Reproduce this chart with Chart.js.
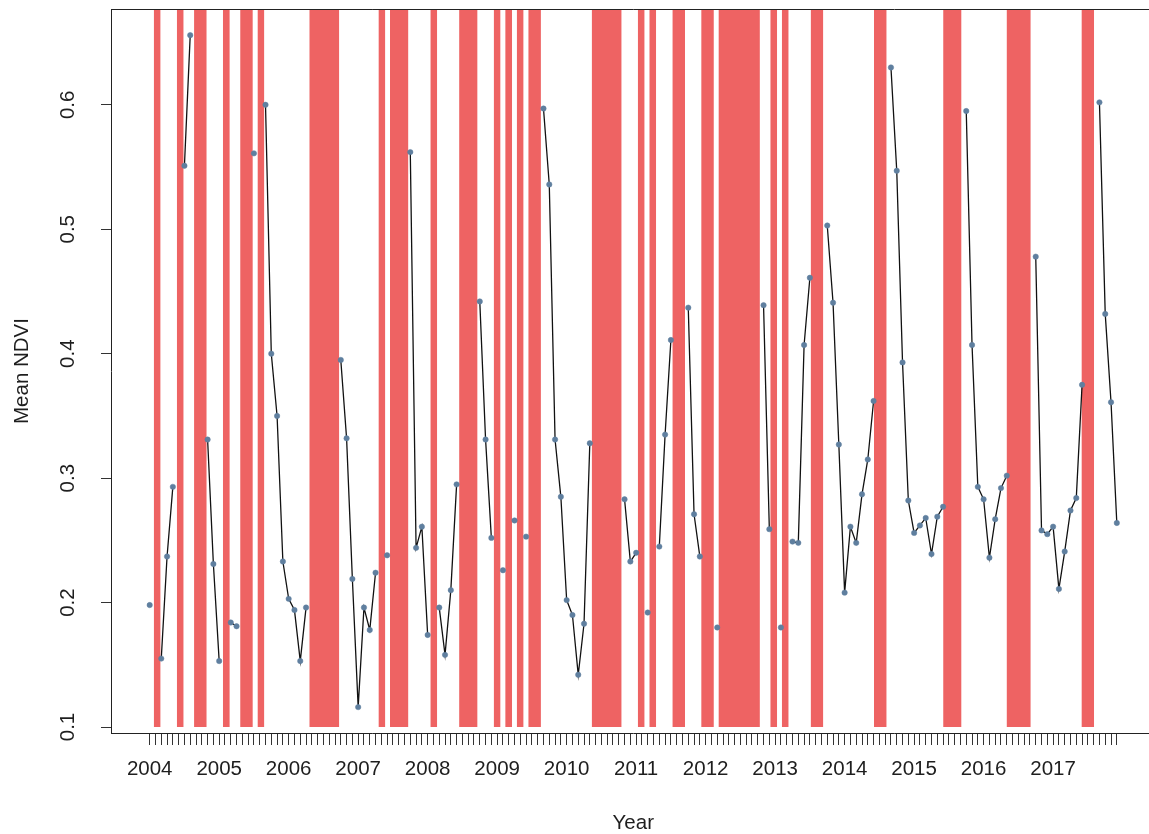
<!DOCTYPE html>
<html>
<head>
<meta charset="utf-8">
<script src="https://cdn.jsdelivr.net/npm/chart.js@4.4.1/dist/chart.umd.min.js"></script>
<style>
  html, body { margin: 0; padding: 0; background: #ffffff; overflow: hidden; width: 1149px; height: 834px; }
  canvas { display: block; position: absolute; left: 0; top: 0; }
</style>
</head>
<body>
<canvas id="c" width="1160" height="834"></canvas>
<script>
// ---- data (monthly mean NDVI, Jan 2004 .. Dec 2017; null = missing month) ----
const years = [2004, 2005, 2006, 2007, 2008, 2009, 2010, 2011, 2012, 2013, 2014, 2015, 2016, 2017];
const ndvi = [
  0.198, null, 0.155, 0.237, 0.293, null, 0.551, 0.656, null, null, 0.331, 0.231,
  0.153, null, 0.184, 0.181, null, null, 0.561, null, 0.600, 0.400, 0.350, 0.233,
  0.203, 0.194, 0.153, 0.196, null, null, null, null, null, 0.395, 0.332, 0.219,
  0.116, 0.196, 0.178, 0.224, null, 0.238, null, null, null, 0.562, 0.244, 0.261,
  0.174, null, 0.196, 0.158, 0.210, 0.295, null, null, null, 0.442, 0.331, 0.252,
  null, 0.226, null, 0.266, null, 0.253, null, null, 0.597, 0.536, 0.331, 0.285,
  0.202, 0.190, 0.142, 0.183, 0.328, null, null, null, null, null, 0.283, 0.233,
  0.240, null, 0.192, null, 0.245, 0.335, 0.411, null, null, 0.437, 0.271, 0.237,
  null, null, 0.180, null, null, null, null, null, null, null, 0.439, 0.259,
  null, 0.180, null, 0.249, 0.248, 0.407, 0.461, null, null, 0.503, 0.441, 0.327,
  0.208, 0.261, 0.248, 0.287, 0.315, 0.362, null, null, 0.630, 0.547, 0.393, 0.282,
  0.256, 0.262, 0.268, 0.239, 0.269, 0.277, null, null, null, 0.595, 0.407, 0.293,
  0.283, 0.236, 0.267, 0.292, 0.302, null, null, null, null, 0.478, 0.258, 0.255,
  0.261, 0.211, 0.241, 0.274, 0.284, 0.375, null, null, 0.602, 0.432, 0.361, 0.264
];
// red bands marking missing months (start / end along the month axis)
const bandStart = [0.80, 4.78, 7.76, 12.74, 15.72, 18.71, 27.66, 39.60, 41.59, 48.56, 53.53, 59.50, 61.49, 63.48,
                   65.47, 76.42, 84.38, 86.37, 90.35, 95.33, 98.31, 107.26, 109.25, 114.23, 125.17, 137.11, 148.06, 160.99];
const bandEnd   = [1.79, 5.77, 9.75, 13.73, 17.71, 19.70, 32.64, 40.59, 44.58, 49.55, 56.52, 60.49, 62.48, 64.47,
                   67.46, 81.40, 85.37, 87.36, 92.34, 97.32, 105.27, 108.25, 110.24, 116.22, 127.16, 140.09, 152.04, 162.98];
const bandBottom = 0.1;
const yTicks = [0.1, 0.2, 0.3, 0.4, 0.5, 0.6];
const yMin = 0.0952, yMax = 0.677;
const xMin = -6.68, xMax = 173.68;

// style: the bands in the original carry a thin border of the same colour
const bandPad = 0.1;

// ---- build datasets ----
const lineData = ndvi.map((v, i) => ({ x: i, y: v }));
const bandData = [];
bandStart.forEach((s, k) => {
  bandData.push({ x: s - bandPad, y: yMax });
  bandData.push({ x: bandEnd[k] + bandPad, y: yMax });
  bandData.push({ x: bandEnd[k] + bandPad, y: null });
});

const FONT = '"Liberation Sans", Arial, Helvetica, sans-serif';
const TXT = '#1e1e1e';

const boxAndLabels = {
  id: 'boxAndLabels',
  afterDraw(chart) {
    const { ctx, chartArea: a, scales: { y } } = chart;
    ctx.save();
    // top and right sides of the R box
    ctx.strokeStyle = '#222222';
    ctx.lineWidth = 1;
    ctx.beginPath();
    ctx.moveTo(a.left, a.top + 0.5);
    ctx.lineTo(a.right, a.top + 0.5);
    ctx.lineTo(a.right, a.bottom);
    ctx.stroke();
    // y tick labels, rotated like R's default
    ctx.fillStyle = TXT;
    ctx.font = '20.5px ' + FONT;
    ctx.textAlign = 'center';
    ctx.textBaseline = 'middle';
    yTicks.forEach(v => {
      const py = y.getPixelForValue(v);
      ctx.save();
      ctx.translate(68, py);
      ctx.rotate(-Math.PI / 2);
      ctx.fillText(v.toFixed(1), 0, 0);
      ctx.restore();
    });
    ctx.restore();
  }
};

new Chart(document.getElementById('c'), {
  type: 'line',
  data: {
    datasets: [
      {
        label: 'NDVI',
        data: lineData,
        order: 1,
        borderColor: '#111111',
        borderWidth: 1.3,
        pointRadius: 2.7,
        pointBackgroundColor: '#5f7f9f',
        pointBorderColor: '#5f7f9f',
        pointBorderWidth: 0.5,
        spanGaps: false,
        tension: 0,
        fill: false
      },
      {
        label: 'missing',
        data: bandData,
        order: 2,
        borderColor: 'rgba(0,0,0,0)',
        borderWidth: 0,
        pointRadius: 0,
        backgroundColor: '#ee6363',
        spanGaps: false,
        tension: 0,
        fill: { value: bandBottom }
      }
    ]
  },
  options: {
    responsive: false,
    devicePixelRatio: 1,
    animation: false,
    events: [],
    layout: { padding: { top: 9, right: 4, left: 0, bottom: 0 } },
    plugins: { legend: { display: false }, tooltip: { enabled: false } },
    scales: {
      x: {
        type: 'linear',
        min: xMin,
        max: xMax,
        afterBuildTicks: s => { s.ticks = ndvi.map((_, i) => ({ value: i })); },
        afterFit: s => { s.height = 101; },
        ticks: {
          autoSkip: false,
          maxRotation: 0,
          minRotation: 0,
          padding: 12,
          color: TXT,
          font: { family: FONT, size: 20.5 },
          callback: v => (v % 12 === 0 ? String(years[v / 12]) : '')
        },
        grid: { drawOnChartArea: false, drawTicks: true, tickLength: 12, color: '#333333', lineWidth: 1 },
        border: { display: true, color: '#222222', width: 1 },
        title: {
          display: true, text: 'Year', color: TXT,
          font: { family: FONT, size: 20.5, lineHeight: 1 },
          padding: { top: 0, bottom: 0 }
        }
      },
      y: {
        type: 'linear',
        min: yMin,
        max: yMax,
        afterBuildTicks: s => { s.ticks = yTicks.map(v => ({ value: v })); },
        afterFit: s => { s.width = 111; },
        ticks: { display: false },
        grid: { drawOnChartArea: false, drawTicks: true, tickLength: 10, color: '#333333', lineWidth: 1 },
        border: { display: true, color: '#222222', width: 1 },
        title: {
          display: true, text: 'Mean NDVI', color: TXT,
          font: { family: FONT, size: 20.5, lineHeight: 1 },
          padding: { top: 12, bottom: 0 }
        }
      }
    }
  },
  plugins: [boxAndLabels]
});
</script>
</body>
</html>
